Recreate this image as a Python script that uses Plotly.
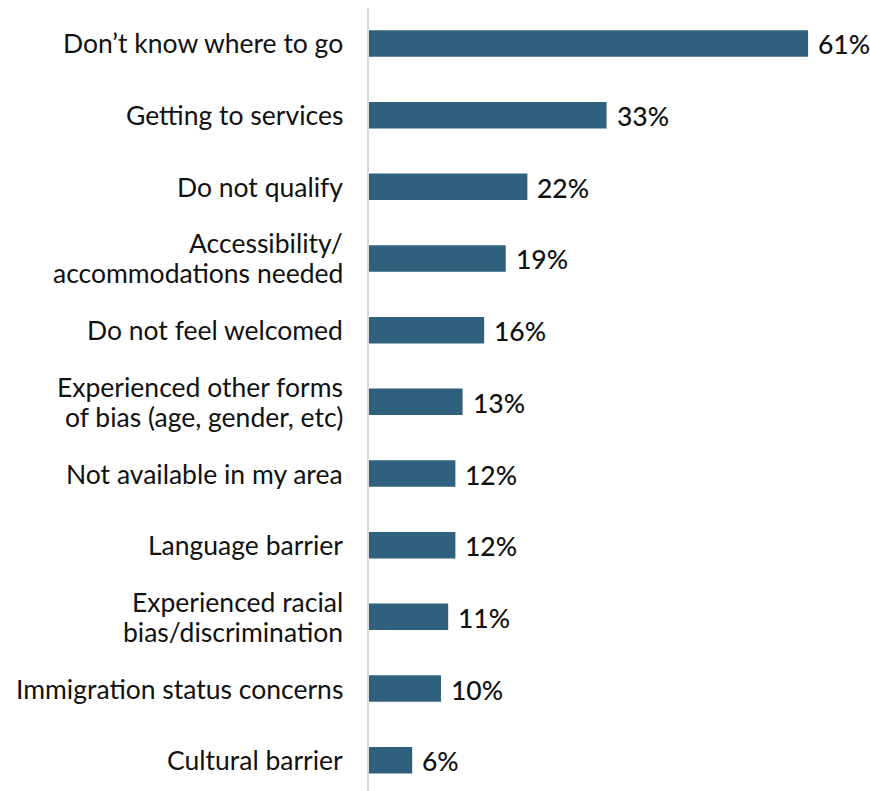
import plotly.graph_objects as go

categories = [
    "Don\u2019t know where to go",
    "Getting to services",
    "Do not qualify",
    "Accessibility/<br>accommodations needed",
    "Do not feel welcomed",
    "Experienced other forms<br>of bias (age, gender, etc)",
    "Not available in my area",
    "Language barrier",
    "Experienced racial<br>bias/discrimination",
    "Immigration status concerns",
    "Cultural barrier",
]
values = [61, 33, 22, 19, 16, 13, 12, 12, 11, 10, 6]
value_labels = [f"{v}%" for v in values]

BAR_COLOR = "#2f607d"
TEXT_COLOR = "#111111"
FONT = "Lato, 'Open Sans', sans-serif"
FONT_SIZE = 26.5
LINE_STEP = 30  # px between stacked lines of a category label

fig = go.Figure(
    go.Bar(
        x=values,
        y=categories,
        orientation="h",
        marker=dict(color=BAR_COLOR, line=dict(width=0)),
        width=0.37,
        hoverinfo="x+y",
    )
)

# Category labels: one annotation per line so the line spacing stays tight
for cat in categories:
    lines = cat.split("<br>")
    n = len(lines)
    for i, line in enumerate(lines):
        fig.add_annotation(
            x=0, y=cat, xref="x", yref="y",
            text=line, showarrow=False,
            xanchor="right", yanchor="middle",
            xshift=-24,
            yshift=((n - 1) / 2 - i) * LINE_STEP,
            font=dict(family=FONT, size=FONT_SIZE, color=TEXT_COLOR),
        )

# Value labels just past the end of each bar
for cat, v, lab in zip(categories, values, value_labels):
    fig.add_annotation(
        x=v, y=cat, xref="x", yref="y",
        text=lab, showarrow=False,
        xanchor="left", yanchor="middle",
        xshift=8, yshift=-1,
        font=dict(family=FONT, size=FONT_SIZE, color=TEXT_COLOR, weight=500),
    )

fig.update_layout(
    width=870,
    height=791,
    margin=dict(l=369, r=0, t=8, b=0),
    paper_bgcolor="white",
    plot_bgcolor="white",
    showlegend=False,
    font=dict(family=FONT, size=FONT_SIZE, color=TEXT_COLOR),
    xaxis=dict(
        range=[0, 69.6],
        showgrid=False,
        zeroline=False,
        showticklabels=False,
        showline=False,
    ),
    yaxis=dict(
        type="category",
        range=[10.43, -0.495],
        showgrid=False,
        zeroline=False,
        showline=True,
        linecolor="#d9d9d9",
        linewidth=2,
        ticks="",
        showticklabels=False,
    ),
)

fig.write_html("out.html")
